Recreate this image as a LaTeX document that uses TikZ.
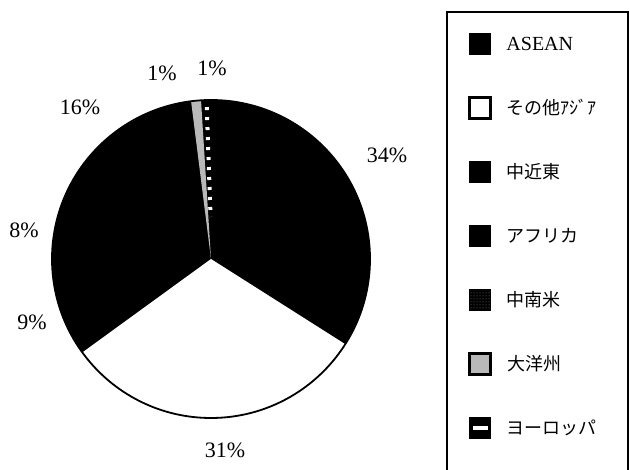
\documentclass[tikz,border=0pt]{standalone}
\usepackage{fontspec}
\setmainfont{Liberation Serif}
\newfontfamily\jpfont{Noto Sans CJK JP}
\usetikzlibrary{positioning,patterns}

\begin{document}
\begin{tikzpicture}[x=1pt,y=1pt,
pct/.style = {font=\fontsize{22}{22}\selectfont, inner sep=0pt},
key/.style = {draw=black, line width=1.5pt, minimum size=21pt, inner sep=0pt},
kblack/.style = {fill=black},
kwhite/.style = {fill=white, line width=2.5pt},
kspeck/.style = {preaction={fill=black}, pattern=dots, pattern color=gray},
kgray/.style = {fill=gray!55, line width=3pt},
kbar/.style = {fill=black, path picture={
    \fill[white] ([xshift=3pt,yshift=-2pt]path picture bounding box.west)
        rectangle ([xshift=-3pt,yshift=2pt]path picture bounding box.east);}},
entry/.style = {anchor=west, inner sep=0pt, font=\jpfont\fontsize{18}{18}\selectfont},
eudash/.style = {white, line width=4pt, dash pattern=on 3pt off 7pt}]
\useasboundingbox (0,0) rectangle (630,470);

% pie, clockwise from 12 o'clock; the black slices share one fill
\coordinate (c) at (211,211);
\fill[black] (c) circle[radius=159];
\foreach \s/\e/\col in {-32.4/-144/white, -262.8/-266.4/gray!55}
    \fill[\col] (c) -- ++(\s:159) arc[start angle=\s, end angle=\e, radius=159] -- cycle;
\draw[line width=1.8pt] (c) circle[radius=159];
\path (c) ++(91.6:152) coordinate (eu1);
\path (c) ++(90.6:42) coordinate (eu2);
\draw[eudash] (eu1) -- (eu2);

% percentages
\node[pct] (p1) at (387,315) {34\%};
\node[pct] (p2) at (225,20) {31\%};
\node[pct] (p3) at (32,148) {9\%};
\node[pct] (p4) at (24,240) {8\%};
\node[pct] (p5) at (80,363) {16\%};
\node[pct] (p6) at (162,397) {1\%};
\node[pct] (p7) at (212,402) {1\%};

% legend
\draw[line width=1.6pt] (447,-10) |- (628,458) -- (628,-10);
\foreach \i/\lbl/\ks in {1/{\rmfamily\fontsize{20}{20}\selectfont ASEAN}/kblack,
    2/その他ｱｼﾞｱ/kwhite, 3/中近東/kblack, 4/アフリカ/kblack,
    5/中南米/kspeck, 6/大洋州/kgray, 7/ヨーロッパ/kbar} {
    \node[key,\ks] (k\i) at (480,490-64*\i) {};
    \node[entry, right=15pt of k\i] (l\i) {\lbl};
}
\end{tikzpicture}
\end{document}
